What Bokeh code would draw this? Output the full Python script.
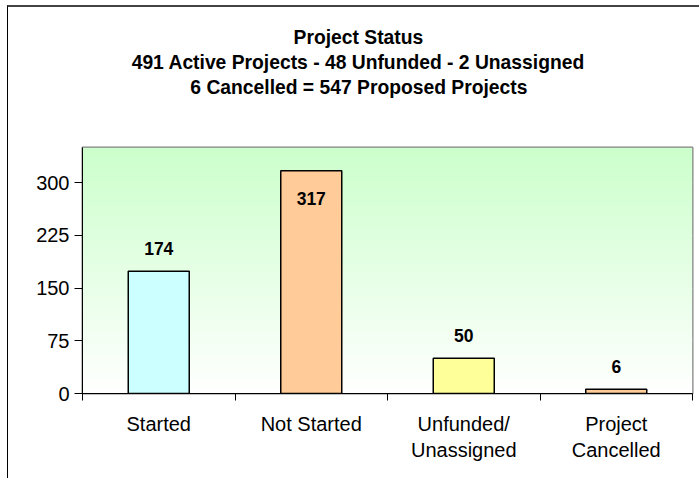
import numpy as np
from bokeh.plotting import figure
from bokeh.models import Range1d, FixedTicker, Title, ColumnDataSource
from bokeh.core.properties import value
from bokeh.embed import file_html
from bokeh.resources import INLINE

# ---- data ----
categories = ["Started", "Not Started", "Unfunded/\nUnassigned", "Project\nCancelled"]
counts = [174, 317, 50, 6]
bar_colors = ["#ccffff", "#ffcc99", "#ffff99", "#ffcc99"]
y_ticks = [0, 75, 150, 225, 300]
title_lines = [
    "Project Status",
    "491 Active Projects - 48 Unfunded - 2 Unassigned",
    "6 Cancelled = 547 Proposed Projects",
]
Y_MAX = 350

FONT = "Liberation Sans"
n = len(categories)
centers = [i + 0.5 for i in range(n)]

# layout geometry (pixels)
W, H = 692, 473
BL, BR, BT, BB = 74, 8, 140, 87
frame_w = W - BL - BR
frame_h = H - BT - BB
px_y = frame_h / Y_MAX

p = figure(width=W, height=H, output_backend="svg", toolbar_location=None,
           x_range=Range1d(0, n), y_range=Range1d(0, Y_MAX),
           min_border_left=BL, min_border_right=BR, min_border_top=BT,
           min_border_bottom=BB, title=None)
p.styles = {"margin-left": "7px", "margin-top": "5px",
            "border-left": "1px solid #000", "border-top": "2px solid #444"}

# gradient background (white at bottom -> light green at top)
N = 256
t = np.linspace(0, 1, N)
r = (255 + (204 - 255) * t).astype(np.uint32)
g = np.full(N, 255, dtype=np.uint32)
b = (255 + (204 - 255) * t).astype(np.uint32)
a = np.full(N, 255, dtype=np.uint32)
col = (a << 24) | (b << 16) | (g << 8) | r
img = col.reshape(N, 1).astype(np.uint32)
p.image_rgba(image=[img], x=0, y=0, dw=n, dh=Y_MAX)

# grid
p.xgrid.visible = False
p.ygrid.ticker = FixedTicker(ticks=y_ticks[1:])
p.ygrid.grid_line_color = "#c4f2c4"
p.ygrid.grid_line_width = 1
p.ygrid.level = "image"

# bars
src = ColumnDataSource(dict(x=centers, top=counts, color=bar_colors))
p.vbar(x="x", top="top", width=0.4, source=src, fill_color="color",
       line_color="black", line_width=1.5)

# value labels (above the bar, or inside when there is no room)
offsets = []
for v in counts:
    if v * px_y + 38 > frame_h:
        offsets.append(28)
    else:
        offsets.append(-23)
lsrc = ColumnDataSource(dict(x=centers, y=counts, text=[str(v) for v in counts], yo=offsets))
p.text(x="x", y="y", text="text", y_offset="yo", source=lsrc,
       text_align="center", text_baseline="alphabetic",
       text_font=value(FONT), text_font_style="bold", text_font_size="17.5px",
       text_color="black")

# axes
xa = p.xaxis[0]
xa.ticker = FixedTicker(ticks=centers, minor_ticks=list(range(n + 1)))
xa.major_label_overrides = {c: lab for c, lab in zip(centers, categories)}
xa.major_tick_out = 0
xa.major_tick_in = 0
xa.minor_tick_out = 7
xa.minor_tick_in = 0
xa.minor_tick_line_color = "black"
xa.axis_line_color = "black"
xa.major_label_text_font = FONT
xa.major_label_text_font_size = "20px"
xa.major_label_text_color = "black"
xa.major_label_standoff = 12

ya = p.yaxis[0]
ya.ticker = FixedTicker(ticks=y_ticks)
ya.major_tick_out = 8
ya.major_tick_in = 0
ya.minor_tick_out = 0
ya.minor_tick_in = 0
ya.axis_line_color = "black"
ya.major_tick_line_color = "black"
ya.major_label_text_font = FONT
ya.major_label_text_font_size = "20px"
ya.major_label_text_color = "black"
ya.major_label_standoff = 5

p.outline_line_color = "#808080"
p.outline_line_width = 2
p.border_fill_color = "white"
p.background_fill_color = "white"

# ---- title block (centred 276 px right of the frame's left edge) ----
TITLE_PX = 19.3
# Arial/Liberation Sans Bold advance widths (1/1000 em)
ADV = {" ": 278, "-": 333, "=": 584, "A": 722, "C": 722, "P": 667, "S": 667,
       "U": 722, "a": 556, "c": 556, "d": 611, "e": 556, "f": 333, "g": 611,
       "i": 278, "j": 278, "l": 278, "n": 611, "o": 611, "r": 389, "s": 556,
       "t": 333, "u": 611, "v": 556}


def text_w(s):
    return sum(ADV.get(ch, 556) for ch in s) * TITLE_PX / 1000.0


title_center = 276
# blank spacer between the frame and the last title line
p.add_layout(Title(text=" ", text_color="white", text_font=FONT,
                   text_font_size="10px", standoff=35), "above")
for line in reversed(title_lines):
    p.add_layout(Title(text=line, align="left", offset=title_center - text_w(line) / 2,
                       text_font=FONT, text_font_style="bold",
                       text_font_size=f"{TITLE_PX}px", text_color="black",
                       standoff=2.2), "above")

open("out.html", "w").write(file_html(p, INLINE))
